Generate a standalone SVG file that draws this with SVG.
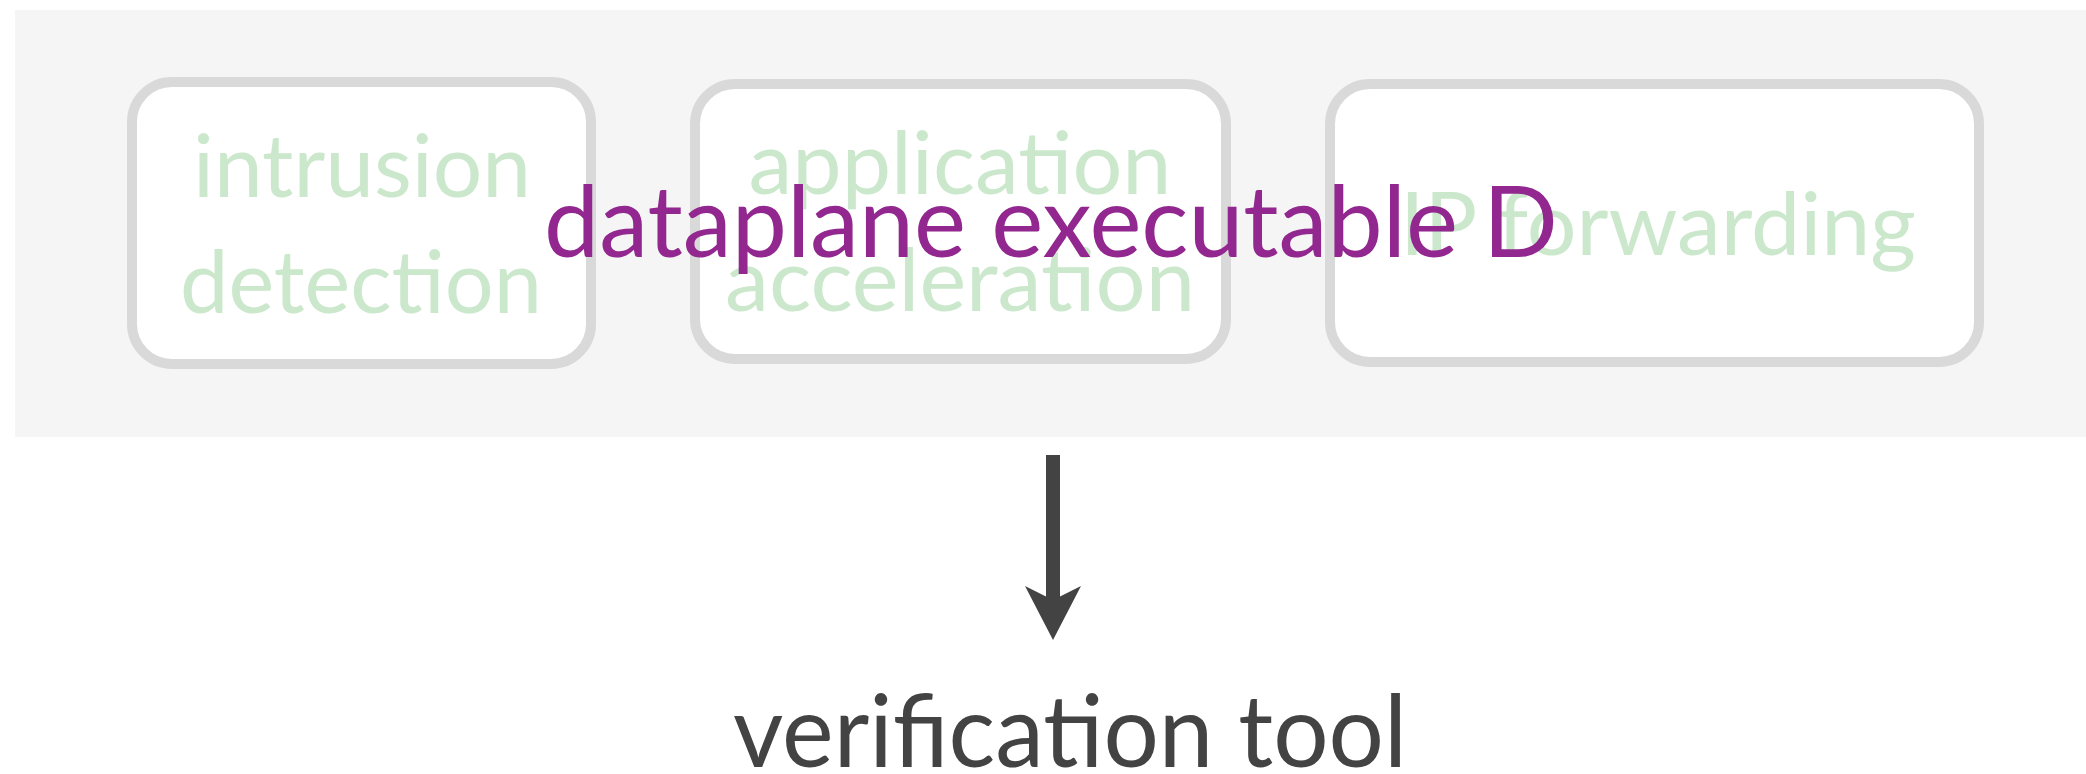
<svg xmlns="http://www.w3.org/2000/svg" width="2086" height="774" viewBox="0 0 2086 774">
  <style>
    .box { fill: #ffffff; stroke: #d9d9d9; stroke-width: 10; }
    .fn { font-family: Lato, "Open Sans", "Liberation Sans", sans-serif; font-size: 88px; fill: #cbe8cc; text-anchor: middle; }
    .title { font-family: Lato, "Open Sans", "Liberation Sans", sans-serif; font-size: 99px; fill: #92278f; }
    .tool { font-family: Lato, "Open Sans", "Liberation Sans", sans-serif; font-size: 100px; fill: #434343; }
    .wire { stroke: #434343; stroke-width: 14; fill: none; }
  </style>

  <!-- dataplane panel -->
  <g id="dataplane">
    <rect x="15" y="10" width="2071" height="427" fill="#f5f5f5"/>
  </g>

  <g id="intrusion-detection">
    <rect class="box" x="132" y="82" width="459" height="282" rx="40" ry="40"/>
    <text class="fn" x="362" y="197" textLength="338" lengthAdjust="spacingAndGlyphs">intrusion</text>
    <text class="fn" x="361" y="313" textLength="362" lengthAdjust="spacingAndGlyphs">detection</text>
  </g>

  <g id="application-acceleration">
    <rect class="box" x="695" y="84" width="531" height="275" rx="40" ry="40"/>
    <text class="fn" x="960" y="194" textLength="423" lengthAdjust="spacingAndGlyphs">application</text>
    <text class="fn" x="960" y="311" textLength="470" lengthAdjust="spacingAndGlyphs">acceleration</text>
  </g>

  <g id="ip-forwarding">
    <rect class="box" x="1330" y="84" width="649" height="278" rx="40" ry="40"/>
    <text class="fn" x="1658" y="255" textLength="516" lengthAdjust="spacingAndGlyphs">IP forwarding</text>
  </g>

  <g id="dataplane-label">
    <text class="title" x="544" y="257" textLength="1014" lengthAdjust="spacingAndGlyphs">dataplane executable D</text>
  </g>

  <g id="verification-tool">
    <text class="tool" x="733" y="767" textLength="674" lengthAdjust="spacingAndGlyphs">verification tool</text>
  </g>

  <g id="connectors">
    <line class="wire" x1="1053" y1="455" x2="1053" y2="600"/>
    <polygon points="1053,640 1025,586 1053,600 1081,586" fill="#434343"/>
  </g>
</svg>
